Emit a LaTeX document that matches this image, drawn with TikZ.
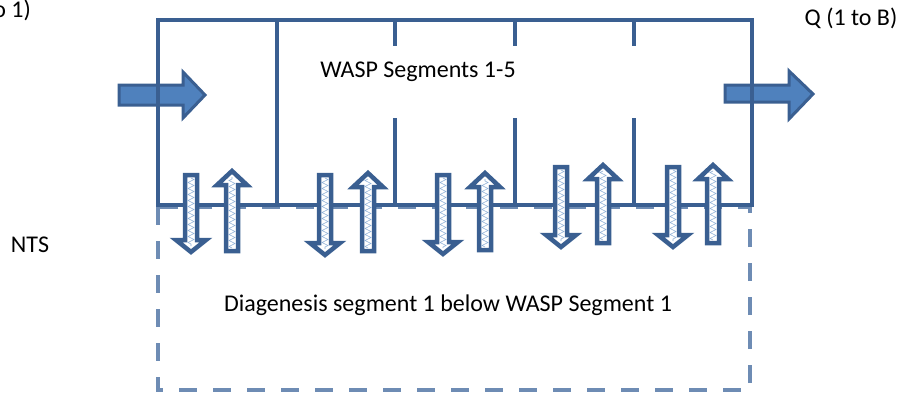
\documentclass[tikz,border=0pt]{standalone}
\usepackage{fontspec}
\setmainfont{Carlito}
\usetikzlibrary{positioning,decorations.pathmorphing}
\definecolor{boxblue}{RGB}{58,95,145}
\definecolor{flowblue}{RGB}{79,129,189}
\definecolor{dashblue}{RGB}{110,140,180}
\definecolor{zigblue}{RGB}{140,175,215}

\begin{document}
\begin{tikzpicture}[x=1pt,y=-1pt,
		wall/.style={boxblue,line width=4pt},
		sediment/.style={dashblue,line width=4pt,dash pattern=on 18pt off 16pt},
		flowarrow/.style={fill=flowblue,draw=boxblue,line width=3pt,line join=miter},
		fluxarrow/.style={fill=white,draw=boxblue,line width=4.5pt,line join=miter},
		zigzagfill/.style={zigblue,line width=0.6pt,decorate,decoration={zigzag,amplitude=3pt,segment length=6pt}},
		label/.style={inner sep=0pt,font=\fontsize{24}{28}\selectfont}]
		\clip (0,0) rectangle (899,394);

		% text
		\node[label,anchor=east]	(qin)		at (31,10)		{Q (1 to 1)};
		\node[label]				(qout)		at (851,18)		{Q (1 to B)};
		\node[label]				(wasp)		at (418,72)		{WASP Segments 1-5};
		\node[label]				(nts)		at (30,245)		{NTS};
		\node[label]				(diag)		at (448,305)	{Diagenesis segment 1 below WASP Segment 1};

		% sediment layer
		\draw[sediment] (158,207) rectangle (750,390);

		% inflow and outflow
		\draw[flowarrow] (119,85) -- (183,85) -- (183,72) -- (205,95) -- (183,118) -- (183,105) -- (119,105) -- cycle;
		\draw[flowarrow] (725,85) -- (789,85) -- (789,71) -- (813,94) -- (789,119) -- (789,102) -- (725,102) -- cycle;

		% water column
		\draw[wall] (158,205) -- (158,20) -- (752,20) -- (752,205) -- cycle;
		\draw[wall] (277,20) -- (277,205);
		\foreach \x in {395,515,634} {
			\draw[wall] (\x,20) -- (\x,46);
			\draw[wall] (\x,118) -- (\x,205);
		}

		% exchange between water and sediment
		\foreach \cd/\td/\bd/\cu/\tu/\bu in {191/175/252/232/171/251,
				325/175/255/368/173/251,443/175/254/485/173/250,
				561/167/247/603/165/243,673/167/247/713/165/243} {
			\draw[fluxarrow] (\cd-6,\td) -- (\cd+6,\td) -- (\cd+6,\bd-12) -- (\cd+15,\bd-12) -- (\cd,\bd) -- (\cd-15,\bd-12) -- (\cd-6,\bd-12) -- cycle;
			\draw[zigzagfill] (\cd,\td+3) -- (\cd,\bd-6);
			\draw[fluxarrow] (\cu-6,\bu) -- (\cu+6,\bu) -- (\cu+6,\tu+14) -- (\cu+15,\tu+14) -- (\cu,\tu) -- (\cu-15,\tu+14) -- (\cu-6,\tu+14) -- cycle;
			\draw[zigzagfill] (\cu,\bu-3) -- (\cu,\tu+6);
		}
	\end{tikzpicture}
\end{document}
